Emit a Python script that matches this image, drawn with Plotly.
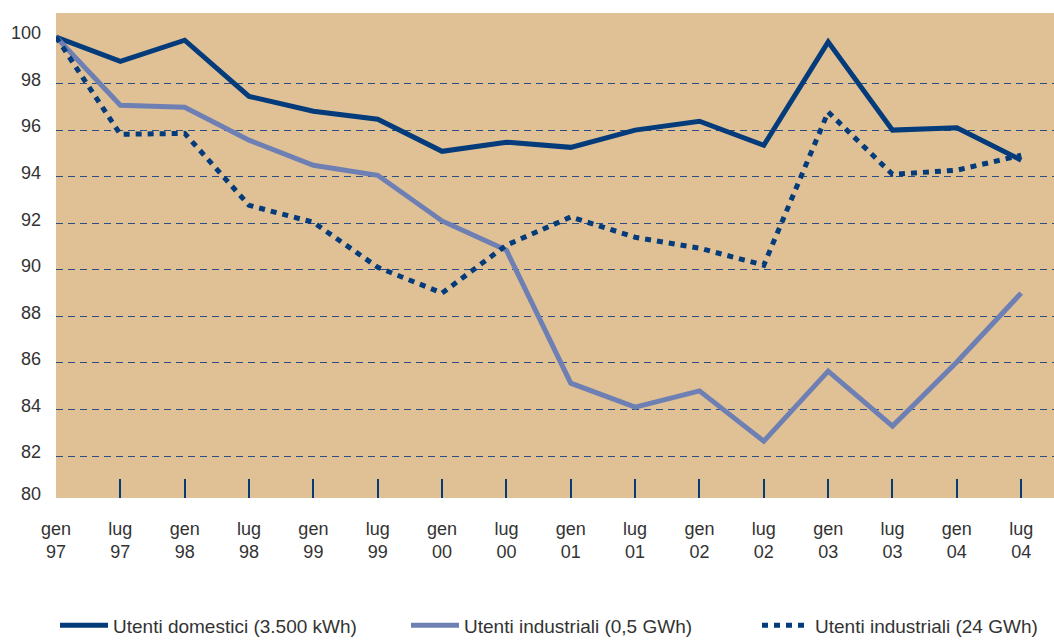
import plotly.graph_objects as go

# Periods (semester labels) and index values (gen 97 = 100)
periods = ["gen<br>97", "lug<br>97", "gen<br>98", "lug<br>98", "gen<br>99", "lug<br>99",
           "gen<br>00", "lug<br>00", "gen<br>01", "lug<br>01", "gen<br>02", "lug<br>02",
           "gen<br>03", "lug<br>03", "gen<br>04", "lug<br>04"]

domestici_3500kwh = [100.0, 98.95, 99.86, 97.45, 96.81, 96.47, 95.09, 95.48,
                     95.26, 96.0, 96.38, 95.35, 99.79, 96.0, 96.1, 94.71]
industriali_05gwh = [100.0, 97.07, 96.98, 95.57, 94.49, 94.06, 92.1, 90.84,
                     85.13, 84.1, 84.8, 82.64, 85.65, 83.29, 86.04, 89.0]
industriali_24gwh = [100.0, 95.82, 95.86, 92.77, 92.04, 90.11, 89.0, 91.06,
                     92.27, 91.4, 90.93, 90.2, 96.78, 94.1, 94.28, 94.92]

y_tick_vals = [80.2, 82, 84, 86, 88, 90, 92, 94, 96, 98, 100]
y_tick_text = ["80", "82", "84", "86", "88", "90", "92", "94", "96", "98", "100"]
grid_vals = [82, 84, 86, 88, 90, 92, 94, 96, 98]

NAVY = "#043b7a"
LIGHT = "#6e7fb3"
BG = "#e0c196"
TEXT = "#333333"
FONT = "Liberation Sans, Arial, sans-serif"

x = list(range(len(periods)))
y_range = [80.2, 101.03]
x_range = [0, 15.51]

fig = go.Figure()
fig.add_trace(go.Scatter(x=x, y=domestici_3500kwh, mode="lines",
                         name="Utenti domestici (3.500 kWh)", legend="legend",
                         line=dict(color=NAVY, width=5)))
fig.add_trace(go.Scatter(x=x, y=industriali_05gwh, mode="lines",
                         name="Utenti industriali (0,5 GWh)", legend="legend2",
                         line=dict(color=LIGHT, width=5)))
fig.add_trace(go.Scatter(x=x, y=industriali_24gwh, mode="lines",
                         name="Utenti industriali (24 GWh)", legend="legend3",
                         line=dict(color=NAVY, width=5, dash="6px,6px")))

# invisible helper trace on overlay axes (grid lines + inner tick marks)
fig.add_trace(go.Scatter(x=[x[0]], y=[y_range[0]], xaxis="x2", yaxis="y2",
                         mode="lines", showlegend=False, hoverinfo="skip",
                         line=dict(width=0)))


def legend_box(x_px):
    return dict(orientation="h", xref="container", x=x_px / 1054, xanchor="left",
                y=-0.2625, yanchor="middle", itemwidth=48,
                font=dict(family=FONT, size=19, color=TEXT),
                bgcolor="rgba(0,0,0,0)")


fig.update_layout(
    width=1054, height=640,
    margin=dict(l=56, r=0, t=13, b=142, autoexpand=False),
    paper_bgcolor="white",
    plot_bgcolor=BG,
    font=dict(family=FONT, size=18, color=TEXT),
    showlegend=True,
    legend=legend_box(55),
    legend2=legend_box(406),
    legend3=legend_box(757),
    xaxis=dict(range=x_range, tickvals=x, ticktext=periods, ticks="",
               showgrid=False, zeroline=False, showline=False,
               ticklabelstandoff=18, tickfont=dict(size=18, color=TEXT)),
    yaxis=dict(range=y_range, tickvals=y_tick_vals, ticktext=y_tick_text,
               ticks="", showgrid=False, zeroline=False, showline=False,
               ticklabelstandoff=14, ticklabelshift=-4,
               tickfont=dict(size=18, color=TEXT)),
    xaxis2=dict(range=x_range, overlaying="x", tickvals=x[1:], ticks="inside",
                ticklen=19, tickwidth=1.5, tickcolor=NAVY, showticklabels=False,
                showgrid=False, zeroline=False, showline=False),
    yaxis2=dict(range=y_range, overlaying="y", tickvals=grid_vals, ticks="",
                showticklabels=False, showgrid=True, gridcolor="#2b4d80",
                gridwidth=1, griddash="7px,5px", zeroline=False, showline=False),
)

fig.write_html("out.html")
